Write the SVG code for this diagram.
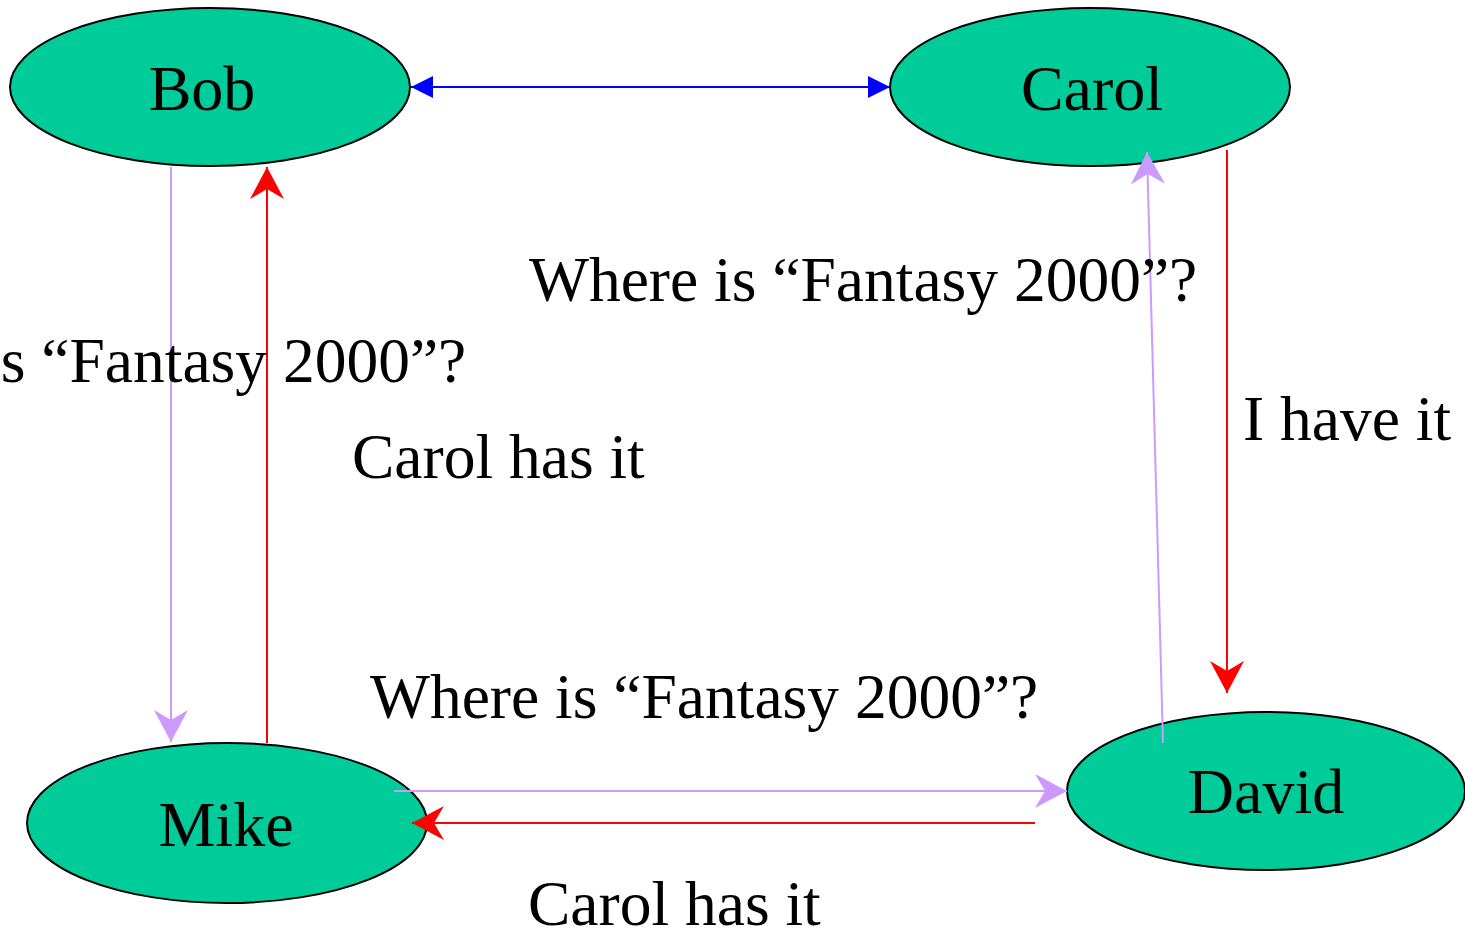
<svg xmlns="http://www.w3.org/2000/svg" width="1465" height="932" viewBox="0 0 1465 932">
  <style>
    .node { fill: #00cc99; stroke: #000; stroke-width: 2; }
    .name { font-family: "Liberation Serif", "Times New Roman", serif; font-size: 64px; fill: #000; text-anchor: middle; }
    .label { font-family: "Liberation Serif", "Times New Roman", serif; font-size: 63.5px; fill: #000; }
    .blue { stroke: #0000ff; stroke-width: 2; fill: none; }
    .red { stroke: #ff0000; stroke-width: 2; fill: none; }
    .lilac { stroke: #cc99ff; stroke-width: 2; fill: none; }
  </style>
  <defs>
    <marker id="tri-blue" viewBox="0 0 22 22" refX="22" refY="11" markerWidth="22" markerHeight="22" markerUnits="userSpaceOnUse" orient="auto-start-reverse">
      <path d="M0,0 L22,11 L0,22 Z" fill="#0000ff"/>
    </marker>
    <marker id="stealth-red" viewBox="0 0 32 34" refX="32" refY="17" markerWidth="32" markerHeight="34" markerUnits="userSpaceOnUse" orient="auto">
      <path d="M0,0 L32,17 L0,34 L10,17 Z" fill="#ff0000"/>
    </marker>
    <marker id="stealth-lilac" viewBox="0 0 32 34" refX="32" refY="17" markerWidth="32" markerHeight="34" markerUnits="userSpaceOnUse" orient="auto">
      <path d="M0,0 L32,17 L0,34 L10,17 Z" fill="#cc99ff"/>
    </marker>
  </defs>

  <!-- nodes -->
  <g id="bob">
    <ellipse class="node" cx="210" cy="87" rx="200" ry="79"/>
    <text class="name" x="202" y="110">Bob</text>
  </g>
  <g id="carol">
    <ellipse class="node" cx="1090" cy="87" rx="200" ry="79"/>
    <text class="name" x="1092" y="110">Carol</text>
  </g>
  <g id="mike">
    <ellipse class="node" cx="227" cy="823" rx="200" ry="80"/>
    <text class="name" x="226" y="846">Mike</text>
  </g>
  <g id="david">
    <ellipse class="node" cx="1266" cy="791" rx="199" ry="79"/>
    <text class="name" x="1266" y="813">David</text>
  </g>

  <!-- connectors, drawn over the node shapes -->
  <g id="connectors">
    <line class="blue" x1="411" y1="87" x2="890" y2="87" marker-start="url(#tri-blue)" marker-end="url(#tri-blue)"/>
    <line class="lilac" x1="171" y1="167" x2="171" y2="742" marker-end="url(#stealth-lilac)"/>
    <line class="red" x1="267" y1="743" x2="267" y2="167" marker-end="url(#stealth-red)"/>
    <line class="red" x1="1227" y1="150" x2="1227" y2="693" marker-end="url(#stealth-red)"/>
    <line class="lilac" x1="1163" y1="743" x2="1147" y2="152" marker-end="url(#stealth-lilac)"/>
    <line class="lilac" x1="394" y1="791" x2="1067" y2="791" marker-end="url(#stealth-lilac)"/>
    <line class="red" x1="1035" y1="823" x2="412" y2="823" marker-end="url(#stealth-red)"/>
  </g>

  <!-- message labels -->
  <g id="labels">
    <text class="label" x="529" y="301">Where is “Fantasy 2000”?</text>
    <text class="label" x="-202" y="382">Where is “Fantasy 2000”?</text>
    <text class="label" x="352" y="478">Carol has it</text>
    <text class="label" x="1243" y="440">I have it</text>
    <text class="label" x="370" y="718">Where is “Fantasy 2000”?</text>
    <text class="label" x="528" y="925">Carol has it</text>
  </g>
</svg>
